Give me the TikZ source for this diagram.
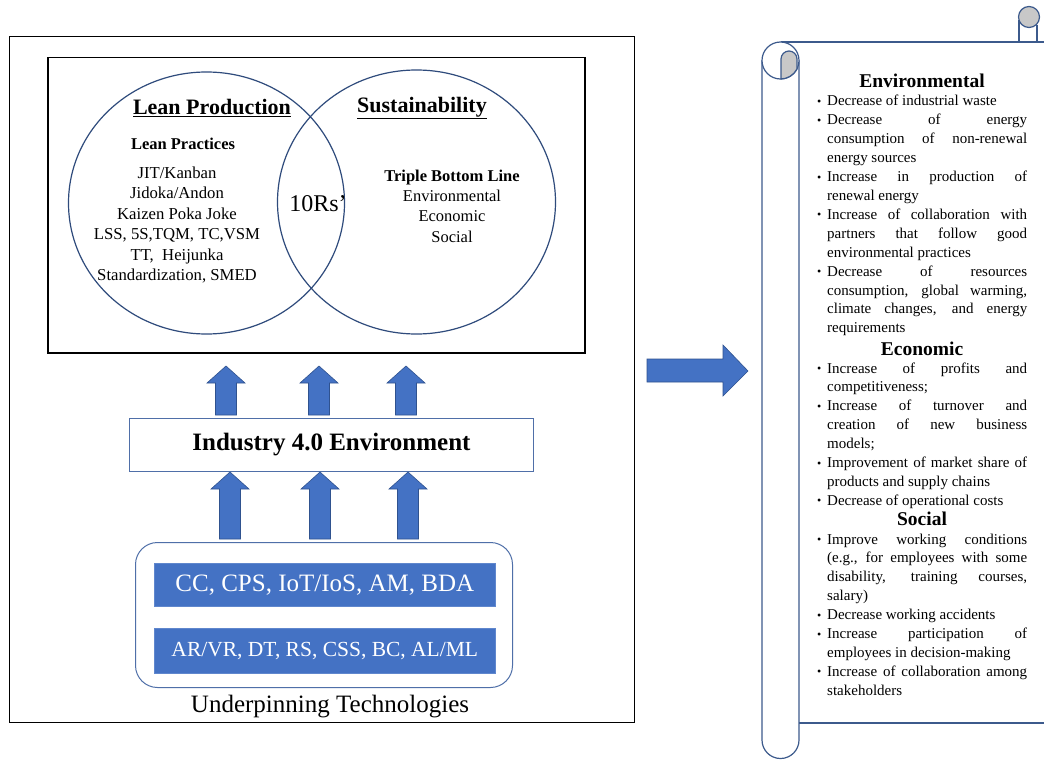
\documentclass[tikz,border=0pt]{standalone}
\usepackage{fontspec}
\setmainfont{Liberation Serif}
\usetikzlibrary{shapes.geometric}
\definecolor{blu}{HTML}{4472C4}
\definecolor{blubord}{HTML}{2F528F}
\definecolor{navy}{HTML}{2F4B7C}
\definecolor{boxbord}{HTML}{4F6FA8}
\definecolor{scrollc}{HTML}{3C5A8C}
\definecolor{greyc}{HTML}{C8C8C8}
\newcommand{\bitem}[1]{\noindent\hangindent=10pt\hangafter=1\makebox[10pt][l]{\raisebox{0.5pt}{\fontsize{12}{12}\selectfont\textbullet}}#1\par}
\newcommand{\blockup}[3]{%
  \filldraw[fill=blu,draw=blubord,line width=0.6pt]
   (#1-10.5,#3) -- (#1-10.5,#2+17) -- (#1-19,#2+17) -- (#1,#2) -- (#1+19,#2+17) -- (#1+10.5,#2+17) -- (#1+10.5,#3) -- cycle;}
\begin{document}
\begin{tikzpicture}[x=1pt,y=-1pt,
  frame/.style={draw=black,line width=1.3pt,inner sep=0pt,anchor=north west},
  venn/.style={ellipse,draw=navy,line width=1.2pt,inner sep=0pt},
  bluebox/.style={fill=blu,draw=blu!85!white,line width=0.6pt,text=white,inner sep=0pt,anchor=north west},
  listtxt/.style={anchor=base west,text width=210pt,align=justify,inner sep=0pt,font=\fontsize{15}{18.9}\selectfont},
  headtxt/.style={font=\bfseries\fontsize{19.5}{22}\selectfont,inner sep=0pt},
  scrollline/.style={draw=scrollc,line width=1.2pt}]
\useasboundingbox (0,0) rectangle (1044,760);
\fill[white] (0,0) rectangle (1044,760);

% frames
\node[frame,minimum width=625pt,minimum height=686pt] (outer) at (9,36) {};
\node[frame,line width=1.5pt,minimum width=537pt,minimum height=295pt] (inner) at (47,57) {};

% venn circles
\node[venn,minimum width=276pt,minimum height=262pt] (lean) at (206.5,203) {};
\node[venn,minimum width=278pt,minimum height=264pt] (sust) at (416.5,202) {};

\node[font=\bfseries\fontsize{22}{26}\selectfont,inner sep=0pt] (leantitle) at (212,108) {\underline{Lean Production}};
\node[font=\bfseries\fontsize{22}{26}\selectfont,inner sep=0pt] (susttitle) at (422,108) {\underline{Sustainability}};
\node[font=\bfseries\fontsize{16.5}{20}\selectfont,inner sep=0pt] (lpract) at (183,144) {Lean Practices};
\node[align=center,font=\fontsize{16.7}{20.4}\selectfont,inner sep=0pt] (lplist) at (177,225)
  {JIT/Kanban\\Jidoka/Andon\\Kaizen Poka Joke\\LSS, 5S,TQM, TC,VSM\\TT,\ \ Heijunka\\Standardization, SMED};
\node[font=\fontsize{24}{28}\selectfont,inner sep=0pt] (tenrs) at (318,204) {10Rs’};
\node[align=center,font=\fontsize{16.5}{20.4}\selectfont,inner sep=0pt] (tbl) at (452,206)
  {\textbf{Triple Bottom Line}\\Environmental\\Economic\\Social};

% arrows up
\blockup{226}{366}{415}
\blockup{319}{366}{415}
\blockup{406}{366}{415}
\node[draw=boxbord,line width=1pt,minimum width=404pt,minimum height=53pt,inner sep=0pt,anchor=north west,
  font=\bfseries\fontsize{25}{28}\selectfont] (ind) at (129,418) {Industry 4.0 Environment};
\blockup{230}{472}{539}
\blockup{320}{472}{539}
\blockup{408}{472}{539}

% technologies
\node[draw=boxbord,line width=1pt,rounded corners=22pt,minimum width=377pt,minimum height=145pt,inner sep=0pt,anchor=north west] (tech) at (135,542) {};
\node[bluebox,minimum width=341pt,minimum height=43pt,font=\fontsize{25}{28}\selectfont] (t1) at (154,563) {CC, CPS, IoT/IoS, AM, BDA};
\node[bluebox,minimum width=341pt,minimum height=45pt,font=\fontsize{21.5}{24}\selectfont] (t2) at (154,628) {AR/VR, DT, RS, CSS, BC, AL/ML};
\node[font=\fontsize{25}{28}\selectfont,inner sep=0pt] (under) at (330,707) {Underpinning Technologies};

% right arrow
\filldraw[fill=blu,draw=blubord,line width=0.6pt]
  (647,359) -- (723,359) -- (723,345) -- (748,371) -- (723,396) -- (723,382) -- (647,382) -- cycle;

% scroll
\draw[scrollline] (780.5,42) -- (1044,42);
\draw[scrollline] (762,60.5) -- (762,740) arc[start angle=180,end angle=0,radius=18.5] -- (799,60.5);
\draw[scrollline,fill=white] (780.5,60.5) circle[radius=18.5];
\filldraw[scrollline,fill=greyc] (781,79) -- (781,59) arc[start angle=180,end angle=360,radius=8] -- (797,68.9) arc[start angle=27,end angle=90,radius=18.5] -- cycle;
\draw[scrollline] (799,723) -- (1044,723);
\draw[scrollline] (1019,20) -- (1019,42);
\draw[scrollline] (1037,25) -- (1037,42);
\filldraw[scrollline,fill=greyc] (1029,17) circle[radius=10.5];

% scroll text
\node[headtxt] (envh) at (922,81) {Environmental};
\node[listtxt] (envl) at (817,106) {\tolerance=10000\hyphenpenalty=10000%
\bitem{Decrease of industrial waste}%
\bitem{Decrease of energy\linebreak consumption of non-renewal\linebreak energy sources}%
\bitem{Increase in production of\linebreak renewal energy}%
\bitem{Increase of collaboration with\linebreak partners that follow good\linebreak environmental practices}%
\bitem{Decrease of resources\linebreak consumption, global warming,\linebreak climate changes, and energy\linebreak requirements}};
\node[headtxt] (ecoh) at (922,349) {Economic};
\node[listtxt] (ecol) at (817,373) {\tolerance=10000\hyphenpenalty=10000%
\bitem{Increase of profits and\linebreak competitiveness;}%
\bitem{Increase of turnover and\linebreak creation of new business\linebreak models;}%
\bitem{Improvement of market share of\linebreak products and supply chains}%
\bitem{Decrease of operational costs}};
\node[headtxt] (soch) at (922,519) {Social};
\node[listtxt] (socl) at (817,544) {\tolerance=10000\hyphenpenalty=10000%
\bitem{Improve working conditions\linebreak (e.g., for employees with some\linebreak disability, training courses,\linebreak salary)}%
\bitem{Decrease working accidents}%
\bitem{Increase participation of\linebreak employees in decision-making}%
\bitem{Increase of collaboration among\linebreak stakeholders}};
\end{tikzpicture}
\end{document}
